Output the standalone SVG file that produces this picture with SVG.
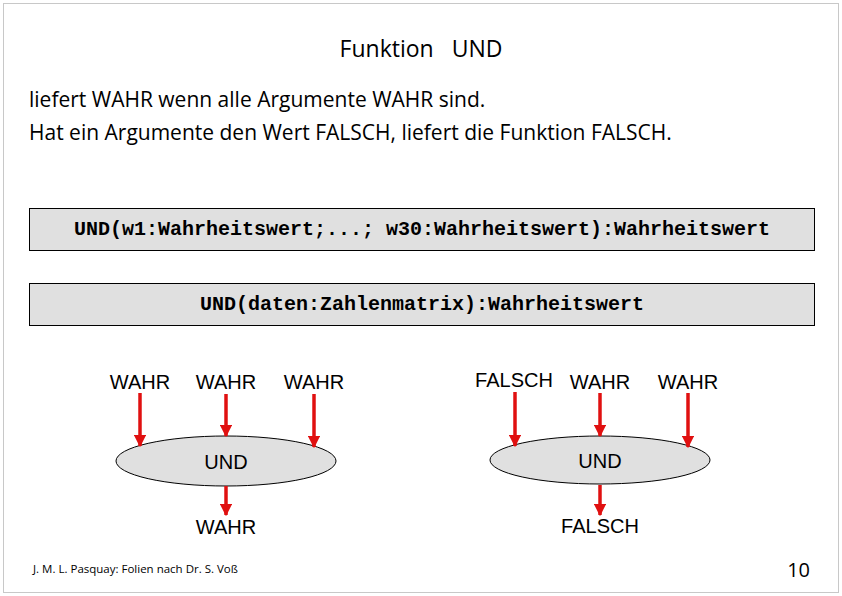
<svg xmlns="http://www.w3.org/2000/svg" width="842" height="596" viewBox="0 0 842 596">
<defs>
<style>
.t{font-family:"Open Sans","Liberation Sans",sans-serif;fill:#000}
.a{font-family:"Liberation Sans",Arial,sans-serif;font-size:20px;fill:#000}
.m{font-family:"Liberation Mono","Courier New",monospace;font-size:20px;font-weight:bold;fill:#000}
.box{fill:#e0e0e0;stroke:#000;stroke-width:1}
.ell{fill:#e0e0e0;stroke:#000;stroke-width:1}
.c{stroke:#e01010;stroke-width:3.5;fill:none;marker-end:url(#ah)}
</style>
<marker id="ah" viewBox="0 0 10 10" refX="9" refY="5" markerWidth="3.5" markerHeight="3.5" orient="auto" markerUnits="strokeWidth"><path d="M0,0L10,5L0,10z" fill="#e01010"/></marker>
</defs>
<rect x="0" y="0" width="842" height="596" fill="#fff"/>
<rect x="3.5" y="3.5" width="835" height="589" fill="none" stroke="#c8c8c8"/>
<text class="t" x="421" y="57" font-size="23" text-anchor="middle" xml:space="preserve">Funktion   UND</text>
<text class="t" x="29" y="107" font-size="21">liefert WAHR wenn alle Argumente WAHR sind.</text>
<text class="t" x="29" y="140" font-size="21">Hat ein Argumente den Wert FALSCH, liefert die Funktion FALSCH.</text>
<g id="sig1"><rect class="box" x="29.5" y="208.5" width="785" height="42"/><text class="m" x="422" y="235" text-anchor="middle">UND(w1:Wahrheitswert;...; w30:Wahrheitswert):Wahrheitswert</text></g>
<g id="sig2"><rect class="box" x="29.5" y="283.5" width="785" height="42"/><text class="m" x="422" y="310" text-anchor="middle">UND(daten:Zahlenmatrix):Wahrheitswert</text></g>
<g id="left">
<text class="a" x="140" y="389" text-anchor="middle">WAHR</text>
<text class="a" x="226" y="389" text-anchor="middle">WAHR</text>
<text class="a" x="314" y="389" text-anchor="middle">WAHR</text>
<ellipse class="ell" cx="226" cy="461" rx="110" ry="25"/>
<text class="a" x="226" y="469" text-anchor="middle">UND</text>
<text class="a" x="226" y="534" text-anchor="middle">WAHR</text>
</g>
<g id="right">
<text class="a" x="514" y="387" text-anchor="middle">FALSCH</text>
<text class="a" x="600" y="389" text-anchor="middle">WAHR</text>
<text class="a" x="688" y="389" text-anchor="middle">WAHR</text>
<ellipse class="ell" cx="600" cy="460" rx="110" ry="24"/>
<text class="a" x="600" y="468" text-anchor="middle">UND</text>
<text class="a" x="600" y="533" text-anchor="middle">FALSCH</text>
</g>
<g id="connectors">
<line class="c" x1="140" y1="393" x2="140" y2="446"/>
<line class="c" x1="226" y1="394" x2="226" y2="436"/>
<line class="c" x1="314" y1="394" x2="314" y2="447"/>
<line class="c" x1="226" y1="486" x2="226" y2="515"/>
<line class="c" x1="515" y1="392" x2="515" y2="446"/>
<line class="c" x1="600" y1="393" x2="600" y2="436"/>
<line class="c" x1="688" y1="393" x2="688" y2="447"/>
<line class="c" x1="600" y1="485" x2="600" y2="515"/>
</g>
<text class="t" x="33" y="573" font-size="11.5" fill="#444">J. M. L. Pasquay: Folien nach Dr. S. Voß</text>
<text class="t" x="810" y="577" font-size="20" text-anchor="end" fill="#444">10</text>
</svg>
